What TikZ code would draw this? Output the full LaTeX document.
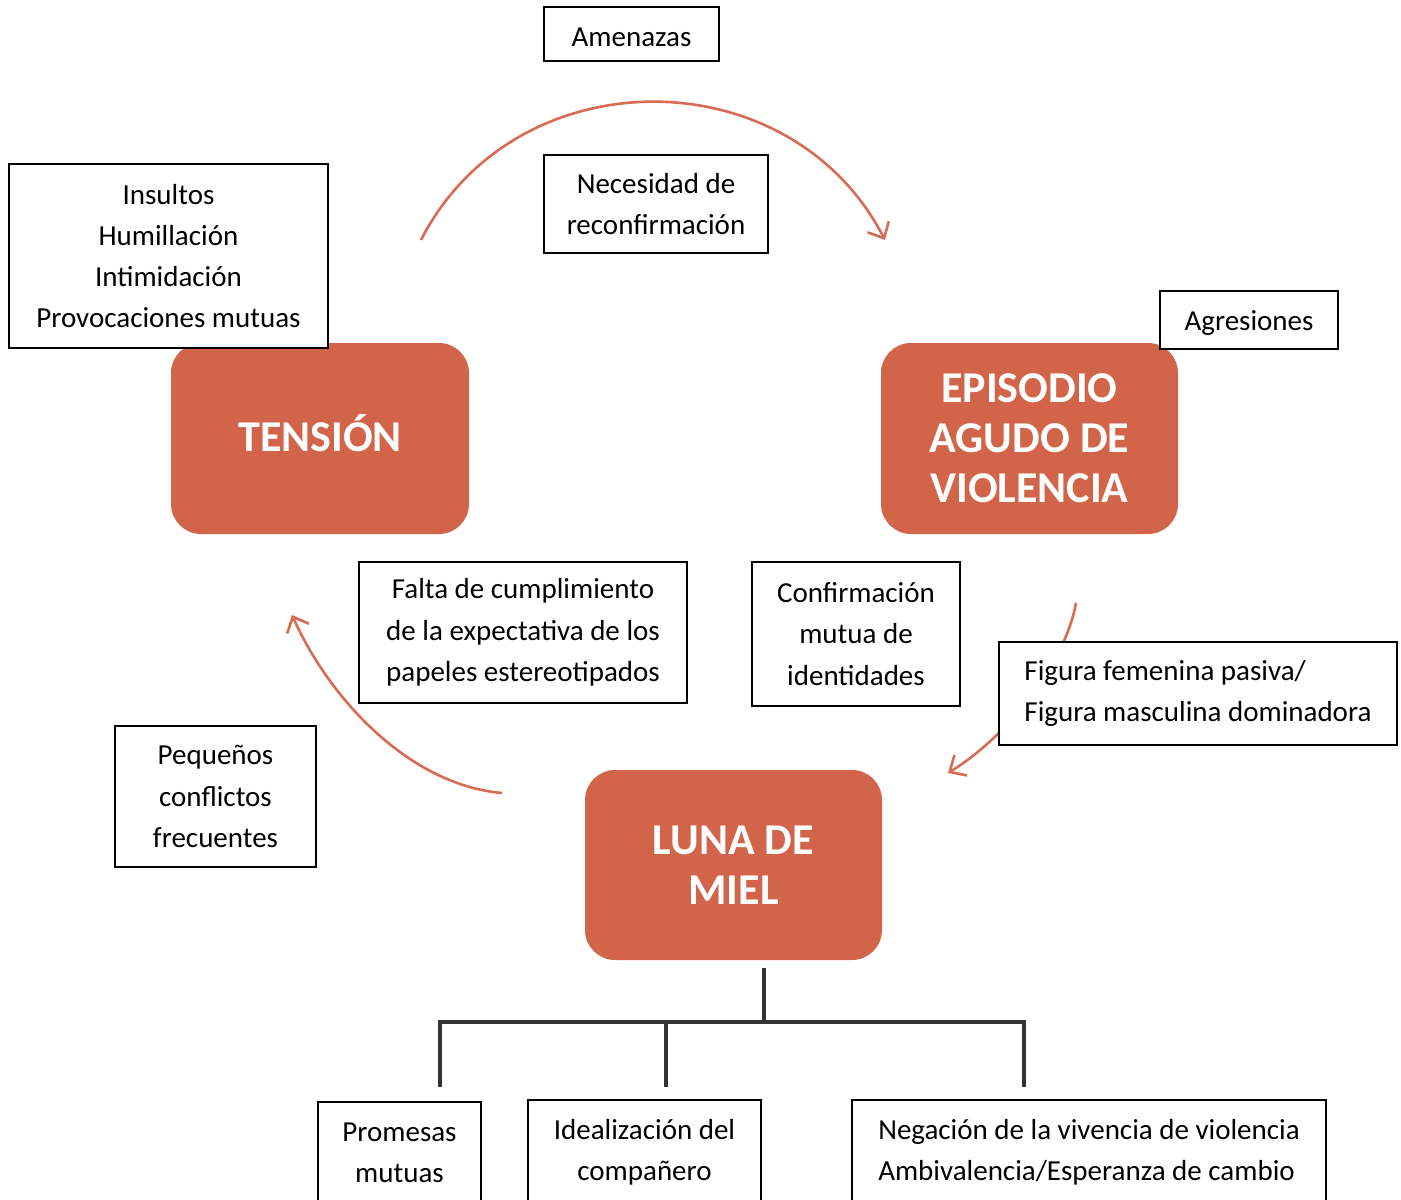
\documentclass[tikz,border=0pt]{standalone}
\usepackage{fontspec}
\setmainfont{Carlito}
\usepackage{xcolor}
\usetikzlibrary{arrows.meta}

\definecolor{cycleorange}{HTML}{D2644A}
\definecolor{arrowred}{HTML}{D86B53}
\definecolor{treegray}{HTML}{333333}

\begin{document}
\begin{tikzpicture}[x=1pt,y=-1pt,
    stage/.style={fill=cycleorange, rounded corners=30pt, text=white, inner sep=0pt,
      align=center, font=\fontsize{44}{50}\selectfont\bfseries},
    note/.style={draw=black, line width=1.6pt, fill=white, inner sep=0pt,
      align=center, font=\fontsize{29}{41.3}\selectfont},
    cyclearrow/.style={draw=arrowred, line width=2.6pt,
      -{Straight Barb[length=13pt,width=24pt,line width=2.6pt]}},
    treeline/.style={draw=treegray, line width=4pt}]
    \useasboundingbox (0,0) rectangle (1401,1200);

    % Arrows of the cycle
    \coordinate (topstart) at (421,240);
    \coordinate (topend) at (885,240);
    \coordinate (rightstart) at (1076,603);
    \coordinate (rightend) at (948,773);
    \coordinate (leftstart) at (502,793);
    \coordinate (leftend) at (292,615);
    \draw[cyclearrow] (topstart) .. controls (515,56) and (790,56) .. (topend);
    \draw[cyclearrow] (rightstart) .. controls (1066,660) and (1010,735) .. (rightend);
    \draw[cyclearrow] (leftstart) .. controls (410,785) and (330,700) .. (leftend);

    % Stages
    \node[stage, text depth=10pt, minimum width=298pt, minimum height=191pt] (tension) at (320,438.5) {TENSIÓN};
    \node[stage, minimum width=297pt, minimum height=191pt] (episodio) at (1029.5,438.5) {EPISODIO\\AGUDO DE\\VIOLENCIA};
    \node[stage, minimum width=297pt, minimum height=190pt] (luna) at (733.5,865) {LUNA DE\\MIEL};

    % Notes
    \node[note, text height=25pt, minimum width=175pt, minimum height=54pt] (amenazas) at (631.5,34) {Amenazas};
    \node[note, minimum width=224pt, minimum height=98pt] (necesidad) at (656,204) {Necesidad de\\reconfirmación};
    \node[note, minimum width=319pt, minimum height=184pt] (insultos) at (168.5,256) {Insultos\\Humillación\\Intimidación\\Provocaciones mutuas};
    \node[note, text height=26pt, minimum width=178pt, minimum height=58pt] (agresiones) at (1249,320) {Agresiones};
    \node[note, minimum width=328pt, minimum height=141pt] (falta) at (523,632.5) {Falta de cumplimiento\\de la expectativa de los\\papeles estereotipados};
    \node[note, minimum width=208pt, minimum height=144pt] (confirmacion) at (856,634) {Confirmación\\mutua de\\identidades};
    \node[note, align=left, minimum width=398pt, minimum height=103pt] (figura) at (1198,693.5) {Figura femenina pasiva/\\Figura masculina dominadora};
    \node[note, minimum width=201pt, minimum height=141pt] (pequenos) at (215.5,796.5) {Pequeños\\conflictos\\frecuentes};

    % Tree below the honeymoon
    \coordinate (trunk) at (764,968);
    \coordinate (fork) at (764,1022);
    \coordinate (forkleft) at (440,1022);
    \coordinate (forkmid) at (666,1022);
    \coordinate (forkright) at (1024,1022);
    \draw[treeline] (trunk) -- (fork);
    \draw[treeline, line cap=rect] (forkleft) -- (forkright);
    \draw[treeline] (forkleft) -- ++(0,65);
    \draw[treeline] (forkmid) -- ++(0,65);
    \draw[treeline] (forkright) -- ++(0,65);

    \node[note, minimum width=163pt, minimum height=102pt] (promesas) at (399.5,1153) {Promesas\\mutuas};
    \node[note, minimum width=233pt, minimum height=104pt] (idealizacion) at (644.5,1152) {Idealización del\\compañero};
    \node[note, align=left, minimum width=474pt, minimum height=104pt] (negacion) at (1089,1152) {Negación de la vivencia de violencia\\Ambivalencia/Esperanza de cambio};
\end{tikzpicture}
\end{document}
